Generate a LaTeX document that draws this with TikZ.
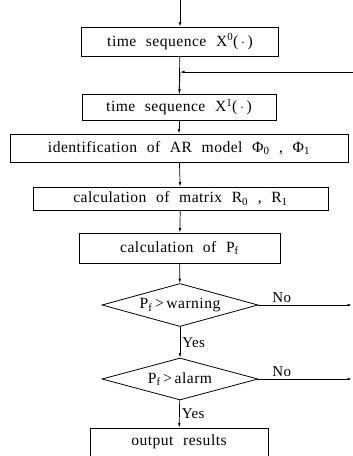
\documentclass[tikz,border=0pt]{standalone}
\usepackage{fontspec}
\setmainfont{Liberation Serif}[LetterSpace=3,WordSpace={2.2}]
\usepackage{tikz}
\usetikzlibrary{positioning,arrows.meta,shapes.geometric}

\tikzset{
  procbox/.style={draw, line width=0.8pt, inner sep=0pt, font=\fontsize{15.6}{17}\selectfont},
  testbox/.style={draw, diamond, line width=0.8pt, inner sep=0pt, aspect=3.6,
    minimum width=156pt, minimum height=43pt, font=\fontsize{15.6}{17}\selectfont},
  flow/.style={line width=0.7pt, -{Latex[length=4.5pt,width=2.6pt]}},
  tag/.style={font=\fontsize{15}{17}\selectfont, inner sep=2pt}
}

\begin{document}
\begin{tikzpicture}[x=1pt,y=-1pt]
\useasboundingbox (0,0) rectangle (353,456);

\node[procbox, minimum width=197pt, minimum height=29pt] (seqa) at (180,41.5)
  {time sequence X\textsuperscript{0}(\,$\cdot$\,)};
\node[procbox, minimum width=194pt, minimum height=26pt] (seqb) at (179,107)
  {time sequence X\textsuperscript{1}(\,$\cdot$\,)};
\node[procbox, minimum width=338pt, minimum height=28pt] (ident) at (179,148)
  {identification of AR model Φ\textsubscript{0} , Φ\textsubscript{1}};
\node[procbox, minimum width=295pt, minimum height=23pt] (matr) at (180.5,198.5)
  {calculation of matrix R\textsubscript{0} , R\textsubscript{1}};
\node[procbox, minimum width=201pt, minimum height=30pt] (calcp) at (179.5,248)
  {calculation of P\textsubscript{f}};
\node[testbox] (warn) at (180,305) {P\textsubscript{f}\,>\,warning};
\node[testbox, minimum height=42pt] (alarm) at (180,379) {P\textsubscript{f}\,>\,alarm};
\node[procbox, minimum width=178pt, minimum height=28pt] (outp) at (179,442)
  {output results};

% free ends at the page border
\coordinate (entry) at (180,0);
\coordinate (back) at (353,72);
\coordinate (nowarn) at (352,305);
\coordinate (noalarm) at (352,379);

\draw[flow] (entry) -- (seqa);
\draw[line width=0.7pt] (seqa) -- (seqb);
\draw[flow] (back) -- (back -| seqa);
\draw[flow] (seqa.south |- back) -- (seqb);
\draw[flow] (seqb) -- (ident);
\draw[flow] (ident) -- (matr);
\draw[flow] (matr) -- (calcp);
\draw[flow] (calcp) -- (warn);
\draw[flow] (warn) -- node[tag, right, pos=0.5]{Yes} (alarm);
\draw[flow] (alarm) -- node[tag, right, pos=0.5]{Yes} (outp);
\draw[flow] (warn.east) -- node[tag, above, pos=0.25]{No} (nowarn);
\draw[flow] (alarm.east) -- node[tag, above, pos=0.25]{No} (noalarm);
\end{tikzpicture}
\end{document}
